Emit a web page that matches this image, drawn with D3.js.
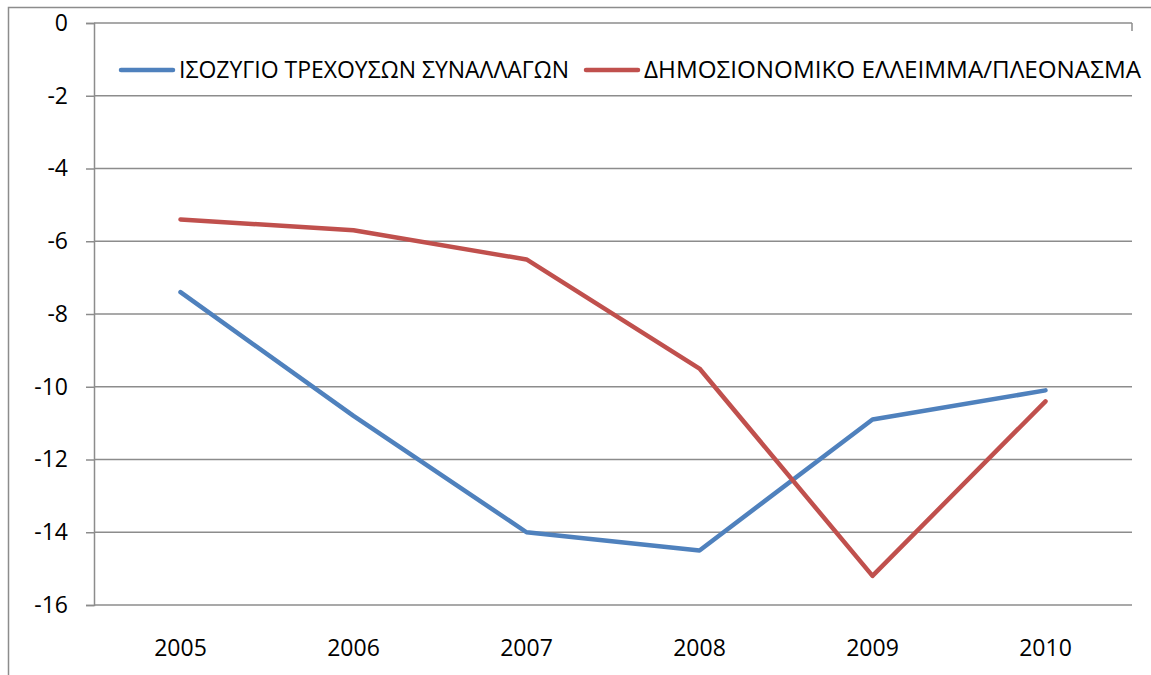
<!DOCTYPE html>
<html>
<head>
<meta charset="utf-8">
<script src="https://cdn.jsdelivr.net/npm/d3@7"></script>
<style>
body { margin: 0; background: #fff; }
svg { font-family: "Open Sans", sans-serif; }
</style>
</head>
<body>
<div id="chart"></div>
<script>
var years = ["2005", "2006", "2007", "2008", "2009", "2010"];
var seriesNames = ["ΙΣΟΖΥΓΙΟ ΤΡΕΧΟΥΣΩΝ ΣΥΝΑΛΛΑΓΩΝ", "ΔΗΜΟΣΙΟΝΟΜΙΚΟ ΕΛΛΕΙΜΜΑ/ΠΛΕΟΝΑΣΜΑ"];
var currentAccount = [-7.4, -10.8, -14.0, -14.5, -10.9, -10.1];
var fiscalBalance = [-5.4, -5.7, -6.5, -9.5, -15.2, -10.4];
var yTicks = [0, -2, -4, -6, -8, -10, -12, -14, -16];

var W = 1151, H = 675;
var margin = {top: 23, right: 19, bottom: 70, left: 94},
    width = W - margin.left - margin.right,
    height = H - margin.top - margin.bottom;

var svg = d3.select("#chart").append("svg")
    .attr("width", W)
    .attr("height", H);

// outer chart frame (only top and left edges are visible)
svg.append("path")
    .attr("d", "M8.5," + H + "V7.5H" + W)
    .attr("fill", "none")
    .attr("stroke", "#8c8c8c")
    .attr("stroke-width", 1.5);

var g = svg.append("g")
    .attr("transform", "translate(" + margin.left + "," + margin.top + ")");

var x = d3.scaleBand()
    .domain(years)
    .range([0, width]);

var y = d3.scaleLinear()
    .domain([-16, 0])
    .range([height, 0]);

var colors = ["#4f81bd", "#c0504d"];
var series = [currentAccount, fiscalBalance];

// gridlines
g.append("g")
    .selectAll("line")
    .data(yTicks)
    .enter().append("line")
    .attr("x1", 0)
    .attr("x2", width)
    .attr("y1", function (d) { return y(d); })
    .attr("y2", function (d) { return y(d); })
    .attr("stroke", "#8c8c8c")
    .attr("stroke-width", 1.5);

// small mark at the top right corner
g.append("line")
    .attr("x1", width).attr("x2", width)
    .attr("y1", 0).attr("y2", 8)
    .attr("stroke", "#8c8c8c")
    .attr("stroke-width", 1.5);

var yAxis = g.append("g")
    .call(d3.axisLeft(y).tickValues(yTicks).tickSize(8).tickPadding(18).tickFormat(d3.format("d")));
yAxis.select(".domain").attr("stroke", "#8c8c8c").attr("stroke-width", 1.5);
yAxis.selectAll(".tick line").attr("stroke", "#8c8c8c").attr("stroke-width", 1.5);
yAxis.selectAll("text")
    .attr("font-family", "Open Sans, sans-serif")
    .attr("font-size", 23)
    .attr("fill", "#000")
    .text(function (d) { return d === 0 ? "0" : String(d).replace("−", "-"); });

var xAxis = g.append("g")
    .attr("transform", "translate(0," + height + ")")
    .call(d3.axisBottom(x).tickSize(0).tickPadding(35));
xAxis.select(".domain").remove();
xAxis.selectAll("text")
    .attr("font-family", "Open Sans, sans-serif")
    .attr("font-size", 23)
    .attr("fill", "#000");

var line = d3.line()
    .x(function (d, i) { return x(years[i]) + x.bandwidth() / 2; })
    .y(function (d) { return y(d); });

g.selectAll(".series")
    .data(series)
    .enter().append("path")
    .attr("class", "series")
    .attr("d", line)
    .attr("fill", "none")
    .attr("stroke", function (d, i) { return colors[i]; })
    .attr("stroke-width", 4.5)
    .attr("stroke-linejoin", "round")
    .attr("stroke-linecap", "round");

// legend
var legendX = [121 - margin.left, 586 - margin.left];
var legendTextLen = [390, 497];
var legend = g.selectAll(".legend")
    .data(seriesNames)
    .enter().append("g")
    .attr("class", "legend")
    .attr("transform", function (d, i) { return "translate(" + legendX[i] + "," + (70 - margin.top) + ")"; });

legend.append("line")
    .attr("x1", 0).attr("x2", 52)
    .attr("y1", 0).attr("y2", 0)
    .attr("stroke", function (d, i) { return colors[i]; })
    .attr("stroke-width", 4.5)
    .attr("stroke-linecap", "round");

legend.append("text")
    .attr("x", 58)
    .attr("y", 8)
    .attr("font-size", 23)
    .attr("textLength", function (d, i) { return legendTextLen[i]; })
    .attr("lengthAdjust", "spacingAndGlyphs")
    .text(function (d) { return d; });
</script>
</body>
</html>
